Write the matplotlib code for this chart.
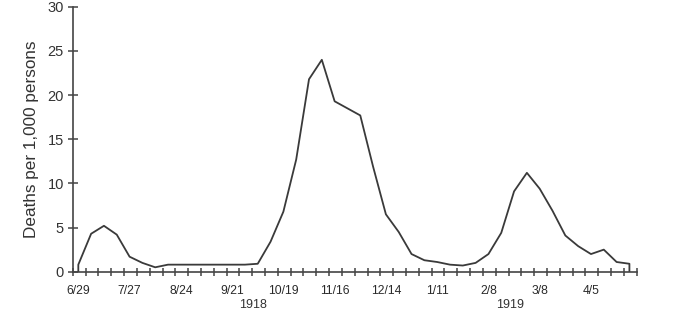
import numpy as np
import matplotlib
matplotlib.use("Agg")
import matplotlib.pyplot as plt
from matplotlib.ticker import FixedLocator

# weekly deaths per 1,000 persons, starting week of 6/29/1918
deaths = [0.8, 4.3, 5.2, 4.2, 1.7, 1.0, 0.5, 0.8, 0.8, 0.8,
          0.8, 0.8, 0.8, 0.8, 0.9, 3.4, 6.8, 12.7, 21.8, 24.0,
          19.3, 18.5, 17.7, 11.9, 6.5, 4.5, 2.0, 1.3, 1.1, 0.8,
          0.7, 1.0, 2.0, 4.4, 9.1, 11.2, 9.4, 6.9, 4.1, 2.9,
          2.0, 2.5, 1.1, 0.9]
date_labels = ["6/29", "7/27", "8/24", "9/21", "10/19", "11/16",
               "12/14", "1/11", "2/8", "3/8", "4/5"]
years = ["1918", "1919"]

weeks = np.arange(len(deaths))
# the curve starts and ends with a drop to the axis
x = np.concatenate([[weeks[0]], weeks, [weeks[-1]]])
y = np.concatenate([[0], deaths, [0]])

plt.rcParams["font.family"] = ["Liberation Sans", "DejaVu Sans"]

fig = plt.figure(figsize=(7, 3.1), dpi=100)
ax = fig.add_axes([0.104, 0.1235, 0.8056, 0.8545])

ax.plot(x, y, color="#3a3a3a", linewidth=1.3)

ax.set_xlim(-0.43, 43.57)
ax.set_ylim(0, 30)
ax.set_yticks([0, 5, 10, 15, 20, 25, 30])

ax.set_xticks(weeks[::4])
ax.set_xticklabels(date_labels)
ax.xaxis.set_minor_locator(FixedLocator(np.arange(45) - 0.43))

for s in ["top", "right"]:
    ax.spines[s].set_visible(False)
for s in ["left", "bottom"]:
    ax.spines[s].set_color("#444444")
    ax.spines[s].set_linewidth(1.2)

ax.tick_params(axis="x", which="major", length=0, pad=9.5, labelsize=8.7, colors="#2a2a2a")
ax.tick_params(axis="x", which="minor", direction="inout", length=5.5, width=1.1, color="#444444")
ax.tick_params(axis="y", direction="inout", length=7, width=1.1, color="#444444",
               labelsize=10.5, labelcolor="#333333", pad=3)

ax.set_ylabel("Deaths per 1,000 persons", fontsize=12.3, color="#333333", labelpad=6)

fig.text(253 / 700, 0.035, years[0], ha="center", va="top", fontsize=9, color="#333333")
fig.text(510 / 700, 0.035, years[1], ha="center", va="top", fontsize=9, color="#333333")

fig.savefig("out.png", dpi=100)
